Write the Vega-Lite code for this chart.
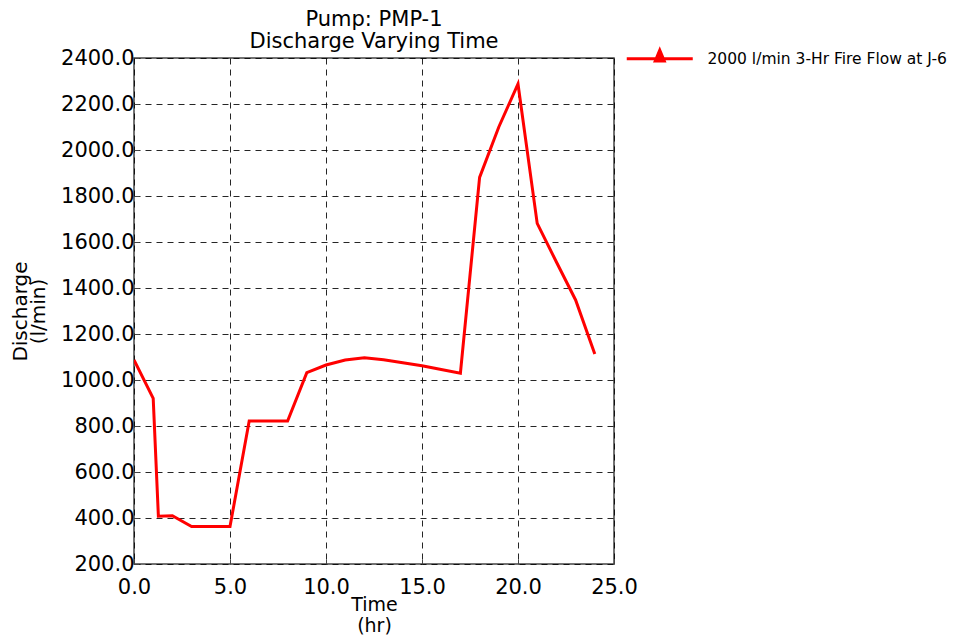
{
  "$schema": "https://vega.github.io/schema/vega-lite/v6.json",
  "width": 480,
  "height": 506,
  "autosize": {"type": "none"},
  "padding": {"left": 134, "top": 58, "right": 346, "bottom": 72},
  "background": "white",
  "title": {
    "text": ["Pump: PMP-1", "Discharge Varying Time"],
    "anchor": "middle",
    "frame": "group",
    "font": "DejaVu Sans",
    "fontSize": 21,
    "fontWeight": "normal",
    "color": "black",
    "lineHeight": 22,
    "offset": -5
  },
  "config": {
    "view": {"stroke": "#444444", "strokeWidth": 1.5},
    "font": "DejaVu Sans",
    "axis": {
      "labelFont": "DejaVu Sans",
      "titleFont": "DejaVu Sans",
      "labelFontSize": 21,
      "titleFontSize": 20,
      "titleFontWeight": "normal",
      "labelColor": "black",
      "titleColor": "black",
      "labelFlush": false,
      "grid": true,
      "gridColor": "black",
      "gridDash": [6, 5],
      "gridWidth": 1,
      "gridOpacity": 0.85,
      "domain": false,
      "tickColor": "#444444",
      "tickSize": -5
    }
  },
  "data": {
    "values": [
      {"t": 0, "q": 1087, "s": "2000 l/min 3-Hr Fire Flow at J-6"},
      {"t": 1, "q": 920, "s": "2000 l/min 3-Hr Fire Flow at J-6"},
      {"t": 1.27, "q": 408, "s": "2000 l/min 3-Hr Fire Flow at J-6"},
      {"t": 2, "q": 410, "s": "2000 l/min 3-Hr Fire Flow at J-6"},
      {"t": 3, "q": 363, "s": "2000 l/min 3-Hr Fire Flow at J-6"},
      {"t": 4, "q": 363, "s": "2000 l/min 3-Hr Fire Flow at J-6"},
      {"t": 5, "q": 363, "s": "2000 l/min 3-Hr Fire Flow at J-6"},
      {"t": 6, "q": 822, "s": "2000 l/min 3-Hr Fire Flow at J-6"},
      {"t": 7, "q": 822, "s": "2000 l/min 3-Hr Fire Flow at J-6"},
      {"t": 8, "q": 822, "s": "2000 l/min 3-Hr Fire Flow at J-6"},
      {"t": 9, "q": 1032, "s": "2000 l/min 3-Hr Fire Flow at J-6"},
      {"t": 10, "q": 1065, "s": "2000 l/min 3-Hr Fire Flow at J-6"},
      {"t": 11, "q": 1087, "s": "2000 l/min 3-Hr Fire Flow at J-6"},
      {"t": 12, "q": 1097, "s": "2000 l/min 3-Hr Fire Flow at J-6"},
      {"t": 13, "q": 1088, "s": "2000 l/min 3-Hr Fire Flow at J-6"},
      {"t": 14, "q": 1075, "s": "2000 l/min 3-Hr Fire Flow at J-6"},
      {"t": 15, "q": 1062, "s": "2000 l/min 3-Hr Fire Flow at J-6"},
      {"t": 16, "q": 1046, "s": "2000 l/min 3-Hr Fire Flow at J-6"},
      {"t": 17, "q": 1030, "s": "2000 l/min 3-Hr Fire Flow at J-6"},
      {"t": 18, "q": 1881, "s": "2000 l/min 3-Hr Fire Flow at J-6"},
      {"t": 19, "q": 2100, "s": "2000 l/min 3-Hr Fire Flow at J-6"},
      {"t": 20, "q": 2287, "s": "2000 l/min 3-Hr Fire Flow at J-6"},
      {"t": 21, "q": 1681, "s": "2000 l/min 3-Hr Fire Flow at J-6"},
      {"t": 22, "q": 1513, "s": "2000 l/min 3-Hr Fire Flow at J-6"},
      {"t": 23, "q": 1348, "s": "2000 l/min 3-Hr Fire Flow at J-6"},
      {"t": 24, "q": 1113, "s": "2000 l/min 3-Hr Fire Flow at J-6"}
    ]
  },
  "mark": {"type": "line", "strokeWidth": 3, "clip": true},
  "encoding": {
    "x": {
      "field": "t",
      "type": "quantitative",
      "scale": {"domain": [0, 25], "nice": false},
      "axis": {"values": [0, 5, 10, 15, 20, 25], "format": ".1f", "title": ["Time", "(hr)"], "titlePadding": -2, "titleFontSize": 19, "titleLineHeight": 21, "labelPadding": 17}
    },
    "y": {
      "field": "q",
      "type": "quantitative",
      "scale": {"domain": [200, 2400], "nice": false, "zero": false},
      "axis": {"values": [200, 400, 600, 800, 1000, 1200, 1400, 1600, 1800, 2000, 2200, 2400], "format": ".1f", "title": ["Discharge", "(l/min)"], "titlePadding": 12, "titleLineHeight": 18, "labelPadding": 5}
    },
    "color": {
      "field": "s",
      "type": "nominal",
      "scale": {"range": ["#ff0000"]},
      "legend": {
        "title": null,
        "orient": "none",
        "legendX": 518,
        "legendY": -7,
        "symbolType": "M-6.6,0H6.6M-0.9,0.45L0,-1.7L0.9,0.45Z",
        "symbolSize": 100,
        "symbolStrokeWidth": 3,
        "symbolStrokeColor": "#ff0000",
        "symbolFillColor": "#ff0000",
        "labelFont": "DejaVu Sans",
        "labelFontSize": 15.5,
        "labelColor": "black",
        "labelOffset": 40,
        "labelLimit": 400,
        "padding": 0
      }
    }
  }
}
